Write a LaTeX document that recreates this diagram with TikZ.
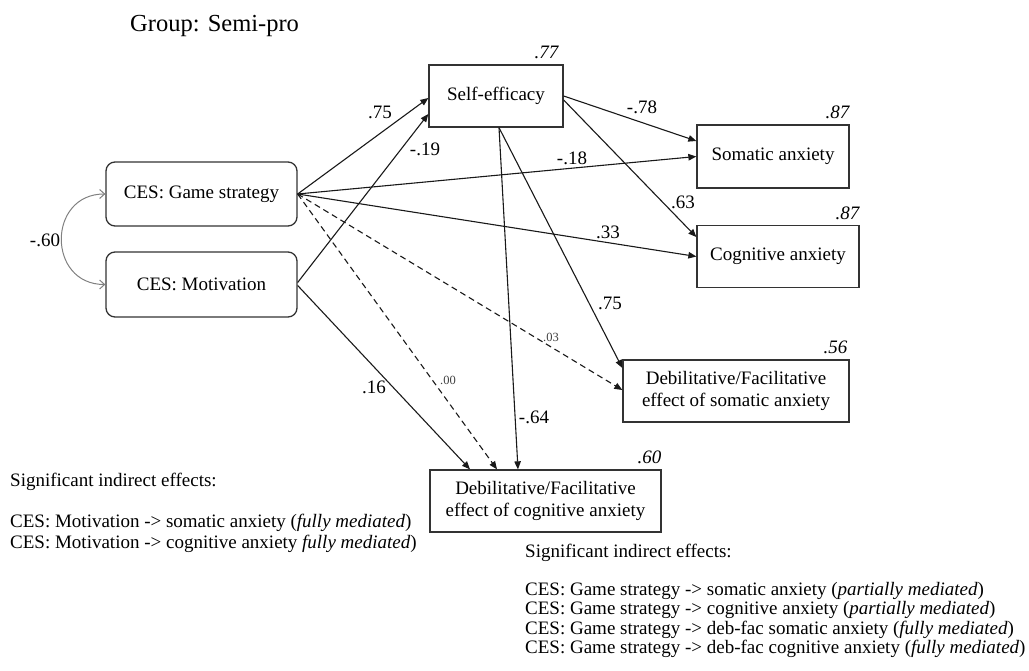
\documentclass[tikz,border=0pt]{standalone}
\usepackage{fontspec}
\setmainfont{Liberation Serif}
\usetikzlibrary{arrows.meta}
\begin{document}
\begin{tikzpicture}[x=1pt,y=-1pt,
  box/.style={draw=black!80, line width=1.3pt, inner sep=0pt, align=center,
    font=\fontsize{19}{22}\selectfont},
  rbox/.style={box, rounded corners=9pt},
  effect/.style={draw=black!90, line width=1.1pt, -{Triangle[length=8pt,width=6.5pt]}},
  weak/.style={effect, dash pattern=on 6pt off 4pt},
  corr/.style={draw=black!50, line width=1pt,
    {Straight Barb[length=5pt,width=9pt]}-{Straight Barb[length=5pt,width=9pt]}},
  coef/.style={inner sep=0pt, font=\fontsize{19}{20}\selectfont},
  tiny/.style={inner sep=0pt, text=black!75, font=\fontsize{12.5}{14}\selectfont},
  rsq/.style={inner sep=0pt, anchor=south east, font=\fontsize{19}{20}\selectfont\itshape},
  line/.style={inner sep=0pt, anchor=base west, font=\fontsize{19}{20}\selectfont}]
\useasboundingbox (0,0) rectangle (1029,671);

% title
\node[line, font=\fontsize{24.5}{26}\selectfont] (title) at (130,32) {Group: Semi-pro};

% exogenous variables
\node[rbox, minimum width=191pt, minimum height=64pt] (gs) at (201.5,194) {CES: Game strategy};
\node[rbox, minimum width=191pt, minimum height=65pt] (mot) at (201.5,284.5) {CES: Motivation};

% mediator and outcomes
\node[box, minimum width=134pt, minimum height=62pt] (se) at (496,96) {Self-efficacy};
\node[box, minimum width=152pt, minimum height=63pt] (som) at (773,156.5) {Somatic anxiety};
\node[box, minimum width=162pt, minimum height=62pt] (cog) at (778,256.5) {Cognitive anxiety};
\node[box, minimum width=226pt, minimum height=62pt] (dfs) at (736,391) {Debilitative/Facilitative\\effect of somatic anxiety};
\node[box, minimum width=231pt, minimum height=62pt] (dfc) at (545.5,501) {Debilitative/Facilitative\\effect of cognitive anxiety};

% explained variance
\node[rsq] (r2se) at ([xshift=-5pt,yshift=5pt]se.north east) {.77};
\node[rsq] (r2som) at ([yshift=5pt]som.north east) {.87};
\node[rsq] (r2cog) at ([yshift=5pt]cog.north east) {.87};
\node[rsq] (r2dfs) at ([xshift=-2pt,yshift=5pt]dfs.north east) {.56};
\node[rsq] (r2dfc) at ([yshift=5pt]dfc.north east) {.60};

% correlation between predictors
\draw[corr] (gs.west) .. controls (47,194) and (47,284.5) .. (mot.west);
\node[coef] (c60) at (45,240) {-.60};

% paths
\draw[effect] (gs.east) -- ([yshift=-2pt]se.west);
\draw[effect] ([yshift=2pt]mot.east) -- ([yshift=-18pt]se.west);
\draw[effect] (gs.east) -- (som.west);
\draw[effect] (gs.east) -- (cog.west);
\draw[effect] (se.east) -- ([yshift=15.5pt]som.west);
\draw[effect] ([yshift=-4pt]se.east) -- ([yshift=19.5pt]cog.west);
\draw[effect] ([xshift=3pt]se.south) -- ([xshift=-27.5pt]dfc.north);
\draw[effect] ([xshift=3pt]se.south) -- ([yshift=23pt]dfs.west);
\draw[weak] (gs.east) -- ([yshift=1pt]dfs.west);
\draw[weak] (gs.east) -- ([xshift=-48.5pt]dfc.north);
\draw[effect] ([yshift=-1pt]mot.east) -- ([xshift=-75.5pt]dfc.north);

% path coefficients
\node[coef] (c1) at (380,112) {.75};
\node[coef] (c2) at (425,149) {-.19};
\node[coef] (c3) at (642,107) {-.78};
\node[coef] (c4) at (572,158) {-.18};
\node[coef] (c5) at (683,202) {.63};
\node[coef] (c6) at (608,232) {.33};
\node[coef] (c7) at (610,303) {.75};
\node[coef] (c8) at (534,417) {-.64};
\node[coef] (c9) at (374,387) {.16};
\node[tiny] (c10) at (551,337) {.03};
\node[tiny] (c11) at (448,380) {.00};

% indirect effects, left
\node[line] (l1) at (10,486) {Significant indirect effects:};
\node[line] (l2) at (10,527) {CES: Motivation -> somatic anxiety (\textit{fully mediated})};
\node[line] (l3) at (10,548) {CES: Motivation -> cognitive anxiety \textit{fully mediated})};

% indirect effects, right
\node[line] (r1) at (525,557) {Significant indirect effects:};
\node[line] (r2) at (525,595) {CES: Game strategy -> somatic anxiety (\textit{partially mediated})};
\node[line] (r3) at (525,614.5) {CES: Game strategy -> cognitive anxiety (\textit{partially mediated})};
\node[line] (r4) at (525,634) {CES: Game strategy -> deb-fac somatic anxiety (\textit{fully mediated})};
\node[line] (r5) at (525,653.5) {CES: Game strategy -> deb-fac cognitive anxiety (\textit{fully mediated})};
\end{tikzpicture}
\end{document}
